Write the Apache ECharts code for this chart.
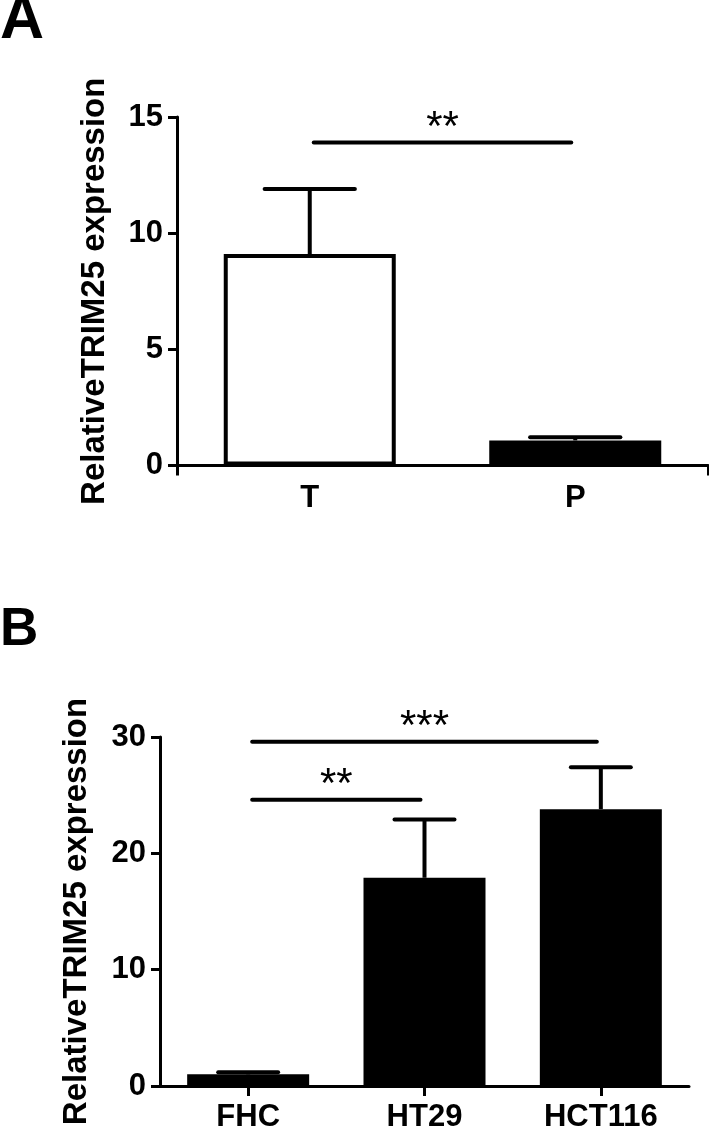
<!DOCTYPE html>
<html>
<head>
<meta charset="utf-8">
<script src="https://cdn.jsdelivr.net/npm/echarts@6/dist/echarts.min.js"></script>
<style>
  html, body { margin: 0; padding: 0; background: #fff; }
  #chart { width: 709px; height: 1133px; }
</style>
</head>
<body>
<div id="chart"></div>
<script>
// panel A
const catsA = ['T', 'P'];
const meanA = [9.1, 1.08];
const errA = [2.8, 0.14];
const ticksA = { min: 0, max: 15, interval: 5 };
const sigA = [{ from: 0, to: 1, y: 13.9, text: '**' }];

// panel B
const catsB = ['FHC', 'HT29', 'HCT116'];
const meanB = [1.0, 17.9, 23.8];
const errB = [0.18, 5.0, 3.6];
const ticksB = { min: 0, max: 30, interval: 10 };
const sigB = [
  { from: 0, to: 1, y: 24.6, text: '**' },
  { from: 0, to: 2, y: 29.6, text: '***' }
];

const yName = 'RelativeTRIM25 expression';
const FONT = 'Liberation Sans, Arial, sans-serif';

const errorBars = (params, api) => {
  const x = api.value(0);
  const m = api.value(1);
  const e = api.value(2);
  const base = api.coord([x, m]);
  const top = api.coord([x, m + e]);
  const half = api.size([1, 0])[0] * 0.17;
  const style = { stroke: '#000', lineWidth: 4, lineCap: 'round' };
  return {
    type: 'group',
    children: [
      { type: 'line', shape: { x1: base[0], y1: base[1], x2: top[0], y2: top[1] }, style: { stroke: '#000', lineWidth: 4 } },
      { type: 'line', shape: { x1: top[0] - half, y1: top[1], x2: top[0] + half, y2: top[1] }, style }
    ]
  };
};

const sigRender = (list) => (params, api) => {
  const s = list[params.dataIndex];
  const a = api.coord([s.from, s.y]);
  const b = api.coord([s.to, s.y]);
  return {
    type: 'group',
    children: [
      { type: 'line', shape: { x1: a[0] + 4, y1: a[1], x2: b[0] - 4, y2: b[1] }, style: { stroke: '#000', lineWidth: 4, lineCap: 'round' } },
      { type: 'text', x: (a[0] + b[0]) / 2, y: a[1] - 14, style: { text: s.text, font: '42px ' + FONT, fill: '#000', align: 'center', verticalAlign: 'middle' } }
    ]
  };
};

const yAxis = (idx, t, gap) => ({
  type: 'value',
  gridIndex: idx,
  min: t.min,
  max: t.max,
  interval: t.interval,
  name: yName,
  nameLocation: 'middle',
  nameGap: gap,
  nameTextStyle: { fontFamily: FONT, fontWeight: 'bold', fontSize: 33, color: '#000' },
  axisLine: { show: true, lineStyle: { color: '#000', width: 3 } },
  axisTick: { show: true, length: 9, lineStyle: { color: '#000', width: 3 } },
  axisLabel: { margin: 14, fontFamily: FONT, fontWeight: 'bold', fontSize: 31, color: '#000' },
  splitLine: { show: false }
});

const labelStyle = { fontFamily: FONT, fontWeight: 'bold', fontSize: 31, color: '#000' };

const option = {
  animation: false,
  backgroundColor: '#fff',
  graphic: [
    { type: 'text', left: 0, top: -9, style: { text: 'A', font: 'bold 61px ' + FONT, fill: '#000' } },
    { type: 'text', left: 0, top: 604, style: { text: 'B', font: 'bold 53px ' + FONT, fill: '#000' } }
  ],
  grid: [
    { left: 177, right: 1, top: 117, bottom: 667.5 },
    { left: 160, right: 20, top: 737, bottom: 44 }
  ],
  xAxis: [
    {
      type: 'category',
      gridIndex: 0,
      data: catsA,
      axisLine: { lineStyle: { color: '#000', width: 3 } },
      axisTick: { show: true, length: 10, interval: (i) => i === 1, lineStyle: { color: '#000', width: 3 } },
      axisLabel: Object.assign({ margin: 17 }, labelStyle)
    },
    {
      type: 'category',
      gridIndex: 1,
      data: catsB,
      axisLine: { lineStyle: { color: '#000', width: 3 } },
      axisTick: { show: true, length: 10, alignWithLabel: true, lineStyle: { color: '#000', width: 3 } },
      axisLabel: Object.assign({ margin: 16 }, labelStyle)
    }
  ],
  yAxis: [yAxis(0, ticksA, 66), yAxis(1, ticksB, 67)],
  series: [
    {
      type: 'bar',
      xAxisIndex: 0,
      yAxisIndex: 0,
      barWidth: 172,
      data: meanA.map((v, i) => ({
        value: v,
        itemStyle: { color: i === 0 ? '#fff' : '#000', borderColor: '#000', borderWidth: 4 }
      }))
    },
    {
      type: 'custom',
      xAxisIndex: 0,
      yAxisIndex: 0,
      z: 1,
      renderItem: errorBars,
      data: catsA.map((c, i) => [i, meanA[i], errA[i]])
    },
    {
      type: 'custom',
      xAxisIndex: 0,
      yAxisIndex: 0,
      renderItem: sigRender(sigA),
      data: sigA.map((s) => [s.from, s.y])
    },
    {
      type: 'bar',
      xAxisIndex: 1,
      yAxisIndex: 1,
      barWidth: 122,
      itemStyle: { color: '#000' },
      data: meanB
    },
    {
      type: 'custom',
      xAxisIndex: 1,
      yAxisIndex: 1,
      z: 1,
      renderItem: errorBars,
      data: catsB.map((c, i) => [i, meanB[i], errB[i]])
    },
    {
      type: 'custom',
      xAxisIndex: 1,
      yAxisIndex: 1,
      renderItem: sigRender(sigB),
      data: sigB.map((s) => [s.from, s.y])
    }
  ]
};

const myChart = echarts.init(document.getElementById('chart'));
myChart.setOption(option, true);
</script>
</body>
</html>
